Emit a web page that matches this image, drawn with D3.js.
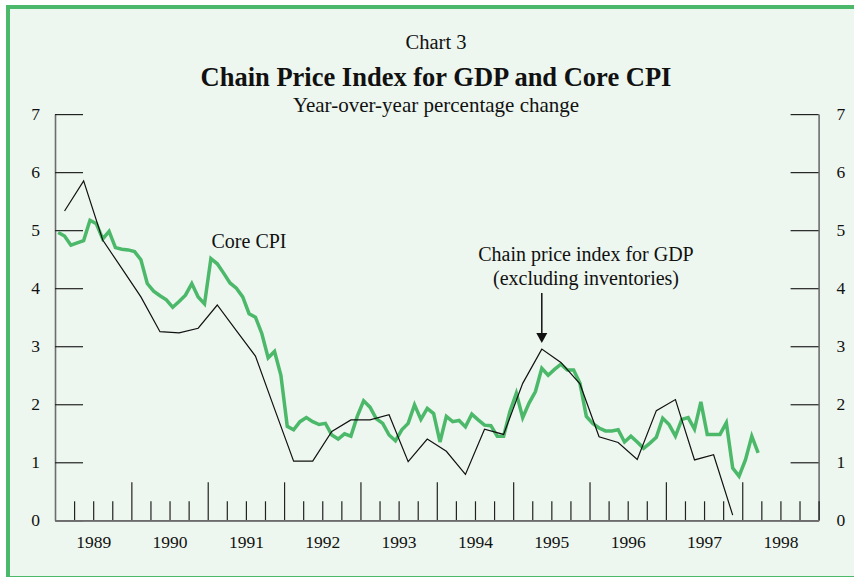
<!DOCTYPE html>
<html lang="en">
<head>
<meta charset="UTF-8">
<script src="https://d3js.org/d3.v7.min.js"></script>
<title>Chart 3</title>
<style>
  body { margin: 0; background: #fff; }
  svg text { font-family: "Liberation Serif", "Times New Roman", serif; fill: #111; }
</style>
</head>
<body>
<script>
// core CPI, monthly, Jan 1989 - Mar 1998
var cpiStart = 1989;
var coreCPI = [
  4.96, 4.90, 4.74, 4.78, 4.82, 5.17, 5.11, 4.85, 4.98, 4.70, 4.67, 4.66,
  4.63, 4.49, 4.08, 3.95, 3.87, 3.80, 3.67, 3.77, 3.88, 4.08, 3.85, 3.73,
  4.51, 4.42, 4.26, 4.09, 4.00, 3.85, 3.56, 3.50, 3.22, 2.80, 2.91, 2.50,
  1.62, 1.56, 1.70, 1.77, 1.70, 1.65, 1.67, 1.47, 1.40, 1.49, 1.45, 1.79,
  2.06, 1.95, 1.75, 1.67, 1.47, 1.37, 1.56, 1.67, 1.99, 1.74, 1.93, 1.84,
  1.35, 1.79, 1.70, 1.72, 1.61, 1.83, 1.73, 1.64, 1.63, 1.45, 1.45, 1.88,
  2.19, 1.77, 2.02, 2.22, 2.62, 2.50, 2.60, 2.69, 2.59, 2.59, 2.36, 1.79,
  1.67, 1.59, 1.54, 1.54, 1.56, 1.35, 1.45, 1.35, 1.24, 1.33, 1.43, 1.76,
  1.65, 1.45, 1.74, 1.77, 1.57, 2.04, 1.48, 1.48, 1.48, 1.68, 0.90, 0.76,
  1.04, 1.45, 1.16
];

// chain price index for GDP ex. inventories, quarterly, 1989Q1 - 1997Q4
var gdpStart = 1989;
var gdpPrice = [
  5.33, 5.85, 4.83, 4.34,
  3.85, 3.25, 3.23, 3.31,
  3.71, 3.27, 2.83, 1.92,
  1.02, 1.02, 1.53, 1.73,
  1.73, 1.82, 1.01, 1.40,
  1.19, 0.79, 1.57, 1.48,
  2.36, 2.95, 2.72, 2.35,
  1.44, 1.34, 1.05, 1.89,
  2.08, 1.04, 1.13, 0.09
];

var years = [1989, 1990, 1991, 1992, 1993, 1994, 1995, 1996, 1997, 1998];
var yTicks = [0, 1, 2, 3, 4, 5, 6, 7];

var w = 854, h = 577;
var plotL = 55, plotR = 818.6, plotT = 114.1, plotB = 520.3;
var green = "#4cb86a";

var svg = d3.select("body").append("svg")
    .attr("width", w)
    .attr("height", h);

// frame
svg.append("rect")
    .attr("x", 8).attr("y", 7)
    .attr("width", 900).attr("height", 571)
    .attr("fill", "#edf7ef")
    .attr("stroke", green)
    .attr("stroke-width", 4);

var x = d3.scaleLinear().domain([1989, 1999]).range([plotL, plotR]);
var y = d3.scaleLinear().domain([0, 7]).range([plotB, plotT]);

// titles
svg.append("text").attr("x", 436).attr("y", 49)
    .attr("text-anchor", "middle").style("font-size", "20.5px")
    .text("Chart 3");
svg.append("text").attr("x", 436).attr("y", 86)
    .attr("text-anchor", "middle").style("font-size", "26.5px").style("font-weight", "bold")
    .text("Chain Price Index for GDP and Core CPI");
svg.append("text").attr("x", 436).attr("y", 112)
    .attr("text-anchor", "middle").style("font-size", "21px")
    .text("Year-over-year percentage change");

// y axes
var fmt = d3.format("d");
svg.append("g")
    .attr("transform", "translate(" + plotL + ",0)")
    .call(d3.axisLeft(y).tickValues(yTicks).tickFormat(fmt).tickSize(-28).tickSizeOuter(0).tickPadding(15));
svg.append("g")
    .attr("transform", "translate(" + plotR + ",0)")
    .call(d3.axisRight(y).tickValues(yTicks).tickFormat(fmt).tickSize(-28).tickSizeOuter(0).tickPadding(18));

// x axis: quarter ticks, year ticks, year labels
var quarters = [];
years.forEach(function(yr) {
    [0.25, 0.5, 0.75].forEach(function(q) { quarters.push(yr + q); });
});
quarters.push(1999);
var yearBreaks = years.slice(1);

var xg = svg.append("g").attr("transform", "translate(0," + plotB + ")");
xg.append("g")
    .call(d3.axisBottom(x).tickValues(quarters).tickSize(-19).tickSizeOuter(0).tickFormat(""));
xg.append("g")
    .call(d3.axisBottom(x).tickValues(yearBreaks).tickSize(-38).tickSizeOuter(0).tickFormat(""));
xg.append("g")
    .call(d3.axisBottom(x).tickValues(years.map(function(d) { return d + 0.5; }))
        .tickSize(0).tickSizeOuter(0).tickPadding(15)
        .tickFormat(function(d) { return Math.floor(d); }));

svg.selectAll(".domain").attr("stroke", "#6d6d6d").attr("stroke-width", 1.6);
svg.selectAll(".tick line").attr("stroke", "#222").attr("stroke-width", 1.2);
svg.selectAll(".tick text").style("font-size", "17.5px").attr("fill", "#111")
    .attr("font-family", "Liberation Serif, Times New Roman, serif");

// lines
var line = d3.line()
    .x(function(d) { return x(d.t); })
    .y(function(d) { return y(d.v); });

var cpiData = coreCPI.map(function(v, i) { return { t: cpiStart + (i + 0.5) / 12, v: v }; });
var gdpData = gdpPrice.map(function(v, i) { return { t: gdpStart + (i + 0.5) / 4, v: v }; });

svg.append("path")
    .datum(cpiData)
    .attr("fill", "none")
    .attr("stroke", green)
    .attr("stroke-width", 3.5)
    .attr("d", line);

svg.append("path")
    .datum(gdpData)
    .attr("fill", "none")
    .attr("stroke", "#111")
    .attr("stroke-width", 1.2)
    .attr("d", line);

// annotations
svg.append("text").attr("x", 211.5).attr("y", 248)
    .style("font-size", "20px").text("Core CPI");
svg.append("text").attr("x", 586).attr("y", 261)
    .attr("text-anchor", "middle").style("font-size", "20px")
    .text("Chain price index for GDP");
svg.append("text").attr("x", 586).attr("y", 285)
    .attr("text-anchor", "middle").style("font-size", "20px")
    .text("(excluding inventories)");

var peak = gdpData[25];
var ax = x(peak.t), ay = y(peak.v) - 6;
svg.append("line")
    .attr("x1", ax).attr("x2", ax)
    .attr("y1", 293).attr("y2", ay - 8)
    .attr("stroke", "#111").attr("stroke-width", 1.5);
svg.append("path")
    .attr("d", "M" + (ax - 5.5) + "," + (ay - 10) + "L" + (ax + 5.5) + "," + (ay - 10) + "L" + ax + "," + ay + "Z")
    .attr("fill", "#111");
</script>
</body>
</html>
